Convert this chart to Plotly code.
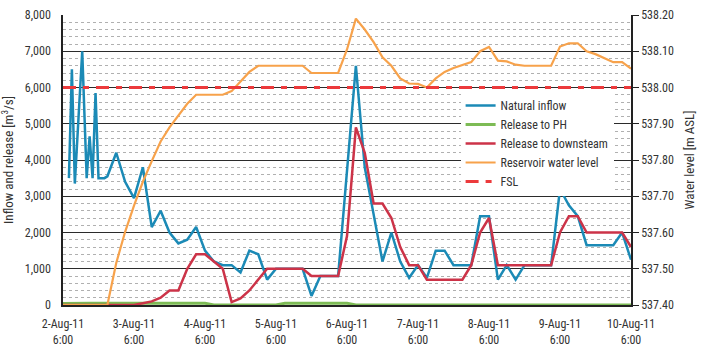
import datetime as dt
import plotly.graph_objects as go

# ---------------- data (hours after 2-Aug-2011 06:00) ----------------
inflow_h = [2, 3, 4, 6.5, 8, 9, 10, 11, 12, 14, 15, 18, 21, 24, 27, 30, 33, 36, 39, 42, 45,
            48, 51, 54, 57, 60, 63, 66, 69, 72, 75, 78, 81, 84, 87, 90, 93, 99, 102, 105,
            108, 111, 114, 117, 120, 123, 126, 129, 132, 135, 138, 141, 144, 147, 150, 153,
            156, 159, 162, 165, 168, 171, 174, 177, 180, 183, 186, 189, 192]
inflow_v = [3500, 6500, 3350, 7000, 3500, 4650, 3500, 5850, 3500, 3500, 3550, 4200, 3400, 2950,
            3800, 2150, 2600, 2000, 1700, 1800, 2150,
            1500, 1200, 1100, 1100, 900, 1500, 1400, 700, 1000, 1000, 1000, 1000, 250, 800, 800,
            800, 6600, 3800, 2500,
            1200, 2000, 1200, 750, 1100, 750, 1500, 1500, 1100, 1100, 1100, 2450, 2450, 700, 1100,
            700, 1100, 1100, 1100, 1100, 3200, 2750, 2450, 1650, 1650, 1650, 1650, 2000, 1250]

ph_h = [0, 3, 6, 9, 12, 15, 18, 21, 24, 27, 30, 33, 36, 39, 42, 45, 48, 51, 54, 57, 60, 63,
        66, 69, 72, 75, 78, 81, 84, 87, 90, 93, 96, 99, 192]
ph_v = [40, 50, 50, 50, 50, 50, 50, 50, 50, 50, 50, 50, 50, 50, 50, 50, 50, 0, 0, 0, 0, 0,
        0, 0, 0, 50, 50, 50, 50, 50, 50, 50, 50, 0, 0]

down_h = [0, 24, 27, 30, 33, 36, 39, 42, 45, 48, 51, 54, 57, 60, 63, 66, 69, 72, 75, 78, 81,
          84, 87, 90, 93, 96, 99, 102, 105, 108, 111, 114, 117, 120, 123, 126, 129, 132, 135,
          138, 141, 144, 147, 150, 153, 156, 159, 162, 165, 168, 171, 174, 177, 180, 183, 186,
          189, 192]
down_v = [0, 0, 50, 100, 200, 400, 400, 1000, 1400, 1400, 1200, 1000, 80, 180, 400, 700, 1000,
          1000, 1000, 1000, 1000, 800, 800, 800, 800, 1900, 4900, 4200, 2800, 2800, 2400, 1600,
          1100, 1100, 700, 700, 700, 700, 700, 1100, 2000, 2400, 1100, 1100, 1100, 1100, 1100,
          1100, 1100, 2000, 2450, 2450, 2000, 2000, 2000, 2000, 2000, 1600]

level_h = [0, 15, 18, 21, 24, 27, 30, 33, 36, 39, 42, 45, 48, 51, 54, 57, 60, 63, 66, 69, 72,
           75, 78, 81, 84, 87, 90, 93, 96, 99, 102, 105, 108, 111, 114, 117, 120, 123, 126,
           129, 132, 135, 138, 141, 144, 147, 150, 153, 156, 159, 162, 165, 168, 171, 174, 177,
           180, 183, 186, 189, 192]
level_v = [537.400, 537.400, 537.516, 537.602, 537.674, 537.740, 537.797, 537.851, 537.890,
           537.924, 537.955, 537.980, 537.980, 537.980, 537.980, 537.990, 538.015, 538.043,
           538.060, 538.060, 538.060, 538.060, 538.060, 538.060, 538.040, 538.040, 538.040,
           538.040, 538.105, 538.190, 538.160, 538.125, 538.083, 538.060, 538.025, 538.011,
           538.010, 538.000, 538.025, 538.043, 538.054, 538.062, 538.070, 538.100, 538.112,
           538.074, 538.072, 538.063, 538.060, 538.060, 538.060, 538.060, 538.113, 538.122,
           538.122, 538.100, 538.092, 538.080, 538.070, 538.070, 538.052]

fsl_h = [0, 192]
fsl_v = [538.00, 538.00]

tick_days = [2, 3, 4, 5, 6, 7, 8, 9, 10]
tick_labels = [f"{d}-Aug-11<br>6:00" for d in tick_days]

# ---------------- build ----------------
t0 = dt.datetime(2011, 8, 2, 6, 0)
def to_t(hours):
    return [t0 + dt.timedelta(hours=h) for h in hours]

FONT = "Liberation Sans Narrow, Roboto Condensed, Arial Narrow, Roboto, sans-serif"

fig = go.Figure()
fig.add_trace(go.Scatter(x=to_t(inflow_h), y=inflow_v, name="Natural inflow", mode="lines",
                         line=dict(color="#1b8ab6", width=2.5)))
fig.add_trace(go.Scatter(x=to_t(ph_h), y=ph_v, name="Release to PH", mode="lines",
                         line=dict(color="#7dbb55", width=3)))
fig.add_trace(go.Scatter(x=to_t(down_h), y=down_v, name="Release to downsteam", mode="lines",
                         line=dict(color="#cc3348", width=2.5)))
fig.add_trace(go.Scatter(x=to_t(level_h), y=level_v, name="Reservoir water level", mode="lines",
                         line=dict(color="#f7a24b", width=2.2), yaxis="y2"))
fig.add_trace(go.Scatter(x=to_t(fsl_h), y=fsl_v, name="FSL", mode="lines",
                         line=dict(color="#ec3a3c", width=3.2, dash="13px,7px,6px,7px"),
                         yaxis="y2"))

fig.update_layout(
    width=703, height=355,
    margin=dict(l=62, r=70, t=8, b=50),
    paper_bgcolor="white", plot_bgcolor="white",
    font=dict(family=FONT, size=12, color="#333333"),
    showlegend=True,
    legend=dict(x=0.70, y=0.738, xanchor="left", yanchor="top",
                bgcolor="white", borderwidth=0,
                font=dict(family=FONT, size=12, color="#333333")),
    xaxis=dict(type="date",
               range=[t0, t0 + dt.timedelta(hours=192)],
               tickvals=to_t([(d - 2) * 24 for d in tick_days]),
               ticktext=tick_labels,
               showgrid=False, zeroline=False,
               showline=True, linecolor="#222222", linewidth=2,
               ticks="", ticklabelstandoff=7,
               tickfont=dict(size=12, color="#333333"),
               layer="below traces"),
    yaxis=dict(range=[0, 8000], dtick=1000, tickformat=",d",
               showgrid=True, gridcolor="#2b2b2b", gridwidth=1.4,
               minor=dict(dtick=200, showgrid=True, gridcolor="#b0b0b0",
                          griddash="dot", gridwidth=1),
               zeroline=False, showline=True, linecolor="#222222", linewidth=1.5,
               ticks="", ticklabelstandoff=8,
               title=dict(text="Inflow and release [m<sup>3</sup>/s]", standoff=8,
                          font=dict(size=13, color="#333333")),
               tickfont=dict(size=12, color="#333333")),
    yaxis2=dict(range=[537.40, 538.20], dtick=0.1, tickformat=".2f",
                overlaying="y", side="right", showgrid=False, zeroline=False,
                showline=True, linecolor="#222222", linewidth=1.5,
                ticks="outside", ticklen=6, tickcolor="#222222",
                title=dict(text="Water level [m ASL]", standoff=12,
                           font=dict(size=13, color="#333333")),
                tickfont=dict(size=12, color="#333333")),
)

fig.write_html("out.html")
